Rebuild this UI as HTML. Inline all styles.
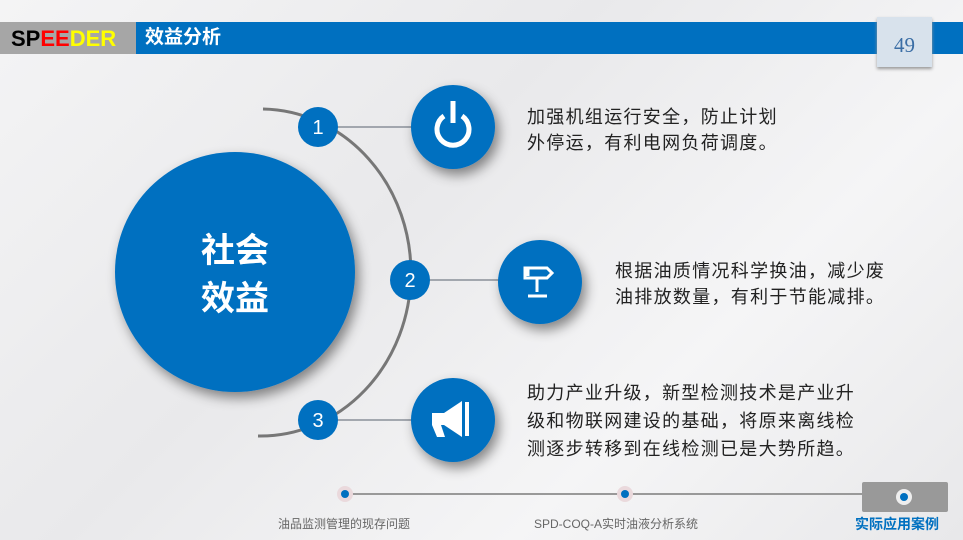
<!DOCTYPE html>
<html><head><meta charset="utf-8"><style>
body{margin:0;width:963px;height:540px;overflow:hidden;background:linear-gradient(135deg,#f4f4f5,#e9e9eb 40%,#f5f5f6 70%,#e8e8ea);font-family:"Liberation Sans","Noto Sans CJK SC",sans-serif;position:relative}
.a{position:absolute}
.t{font-size:18px;color:#222;line-height:26px;letter-spacing:1.3px}
</style></head><body>
<div class="a" style="left:0;top:22px;width:963px;height:32px;background:#0070c0"></div>
<div class="a" style="left:0;top:22px;width:136px;height:32px;background:#a6a6a6;font-weight:bold;font-size:22px;line-height:34px;font-family:'Liberation Sans Narrow','Liberation Sans',sans-serif"><span style="margin-left:11px;color:#000">SP</span><span style="color:#f00">EE</span><span style="color:#ff0">DER</span></div>
<div class="a" style="left:145px;top:22px;line-height:32px;color:#fff;font-weight:bold;font-size:19px">效益分析</div>
<div class="a" style="left:877px;top:17px;width:55px;height:50px;background:#d8e2ec;box-shadow:0 2px 3px #999;text-align:center;font-family:'Liberation Serif',serif;font-size:21px;color:#3b6ea5;line-height:56px">49</div>
<svg class="a" style="left:0;top:0" width="963" height="540">
<defs><filter id="s" x="-50%" y="-50%" width="200%" height="200%"><feDropShadow dx="4" dy="6" stdDeviation="6" flood-color="#000" flood-opacity="0.45"/></filter></defs>
<path d="M263 109 A150 163 0 0 1 258 436" fill="none" stroke="#777" stroke-width="3"/>
<g stroke="#8a9099" stroke-width="1.5"><line x1="318" y1="127" x2="453" y2="127"/><line x1="410" y1="280" x2="540" y2="280"/><line x1="318" y1="420" x2="453" y2="420"/></g>
<circle cx="235" cy="272" r="120" fill="#0070c0" filter="url(#s)"/>
<g fill="#0070c0" filter="url(#s)"><circle cx="453" cy="127" r="42"/><circle cx="540" cy="282" r="42"/><circle cx="453" cy="420" r="42"/></g>
<g fill="#0070c0"><circle cx="318" cy="127" r="20"/><circle cx="410" cy="280" r="20"/><circle cx="318" cy="420" r="20"/></g>
<g fill="#fff" font-size="20" text-anchor="middle" font-family="Liberation Sans"><text x="318" y="134">1</text><text x="410" y="287">2</text><text x="318" y="427">3</text></g>
<text x="235" y="262" fill="#fff" font-size="34" font-weight="bold" text-anchor="middle" font-family="Noto Sans CJK SC">社会</text>
<text x="235" y="310" fill="#fff" font-size="34" font-weight="bold" text-anchor="middle" font-family="Noto Sans CJK SC">效益</text>
<path d="M444 116 A16 16 0 1 0 462 116" fill="none" stroke="#fff" stroke-width="5"/><rect x="450.5" y="101" width="5" height="22" fill="#fff"/>
<g fill="none" stroke="#fff" stroke-width="3"><path d="M525 268 h22 l5 5 l-5 5 h-22 z"/><path d="M537 278 v14 M528 296 h19"/><path d="M528 268 v8"/></g>
<path d="M432 413 h12 l18 -12 v36 l-18 -12 h-3 l4 12 h-8 l-5 -12 z" fill="#fff"/><rect x="465" y="402" width="4" height="34" fill="#fff"/>
<line x1="345" y1="494" x2="865" y2="494" stroke="#999" stroke-width="2"/>
<circle cx="345" cy="494" r="8" fill="#ead9dc"/><circle cx="345" cy="494" r="4" fill="#0070c0"/>
<circle cx="625" cy="494" r="8" fill="#ead9dc"/><circle cx="625" cy="494" r="4" fill="#0070c0"/>
<rect x="862" y="482" width="86" height="30" fill="#999" rx="2"/><circle cx="904" cy="497" r="8" fill="#eee"/><circle cx="904" cy="497" r="4" fill="#0070c0"/>
</svg>
<div class="a t" style="left:527px;top:104px">加强机组运行安全，防止计划<br>外停运，有利电网负荷调度。</div>
<div class="a t" style="left:615px;top:258px">根据油质情况科学换油，减少废<br>油排放数量，有利于节能减排。</div>
<div class="a t" style="left:527px;top:379px;line-height:28px">助力产业升级，新型检测技术是产业升<br>级和物联网建设的基础，将原来离线检<br>测逐步转移到在线检测已是大势所趋。</div>
<div class="a" style="left:278px;top:515px;font-size:12px;color:#666">油品监测管理的现存问题</div>
<div class="a" style="left:534px;top:515px;font-size:12px;color:#666">SPD-COQ-A实时油液分析系统</div>
<div class="a" style="left:855px;top:514px;font-size:14px;color:#0070c0;font-weight:bold">实际应用案例</div>
</body></html>
